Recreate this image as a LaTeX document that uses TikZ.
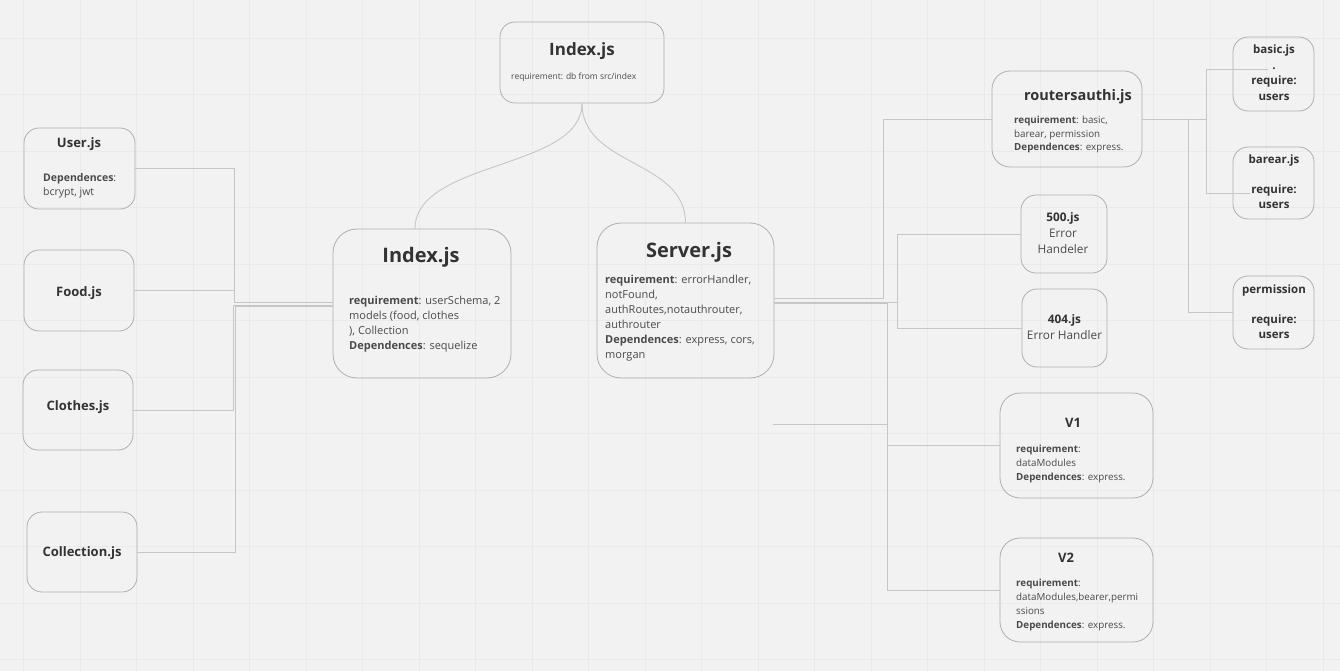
\documentclass[tikz,border=0pt]{standalone}
\usepackage{fontspec}
\setmainfont{Open Sans}
\definecolor{bg}{HTML}{F2F2F2}
\definecolor{gridc}{HTML}{EAEAEA}
\definecolor{boxc}{HTML}{AFAFAF}
\definecolor{connc}{HTML}{C6C6C6}
\definecolor{txt}{HTML}{333333}
\definecolor{txtb}{HTML}{4A4A4A}
\tikzset{
  gridline/.style={draw=gridc, line width=0.6pt},
  boxn/.style={draw=boxc, line width=0.8pt, rounded corners=15pt, inner sep=0pt, fill=none},
  conn/.style={draw=connc, line width=0.9pt},
  tl/.style={anchor=base, inner sep=0pt, text=txt, font=\bfseries},
  bd/.style={anchor=base west, inner sep=0pt, align=left, text=txtb},
  cb/.style={anchor=base, inner sep=0pt, align=center, text=txt},
}
\begin{document}
\begin{tikzpicture}[x=1pt,y=-1pt]
\useasboundingbox (0,0) rectangle (1340,671);
\fill[bg] (0,0) rectangle (1340,671);
\foreach \i in {0,...,23} \draw[gridline] (23.5+56.5*\i,0) -- (23.5+56.5*\i,671);
\foreach \j in {0,...,11} \draw[gridline] (0,38+56.5*\j) -- (1340,38+56.5*\j);

% boxes
\node[boxn, minimum width=164pt, minimum height=81pt] (idxTop) at (582,62.5) {};
\node[boxn, minimum width=111pt, minimum height=81pt] (user) at (79.5,168.5) {};
\node[boxn, minimum width=110pt, minimum height=81pt] (food) at (79,290.5) {};
\node[boxn, minimum width=110pt, minimum height=80pt] (clothes) at (78,410) {};
\node[boxn, minimum width=110pt, minimum height=80pt] (coll) at (82,552) {};
\node[boxn, rounded corners=24pt, minimum width=178pt, minimum height=149pt] (idxMid) at (422,303.5) {};
\node[boxn, rounded corners=24pt, minimum width=177pt, minimum height=155pt] (server) at (685.5,300.5) {};
\node[boxn, rounded corners=18pt, minimum width=150pt, minimum height=96pt] (rauth) at (1067,119) {};
\node[boxn, minimum width=81pt, minimum height=74pt] (basic) at (1273.5,74) {};
\node[boxn, minimum width=81pt, minimum height=72pt] (barear) at (1273.5,183) {};
\node[boxn, minimum width=81pt, minimum height=73pt] (perm) at (1273.5,312.5) {};
\node[boxn, minimum width=86pt, minimum height=78pt] (e500) at (1064,234) {};
\node[boxn, minimum width=85pt, minimum height=78pt] (e404) at (1064.5,328) {};
\node[boxn, rounded corners=20pt, minimum width=153pt, minimum height=105pt] (v1) at (1076.5,445.5) {};
\node[boxn, rounded corners=20pt, minimum width=153pt, minimum height=104pt] (v2) at (1076.5,590) {};

% texts (base anchor of a multi-line node = baseline of its last line)
\node[tl, font=\bfseries\fontsize{17}{20}\selectfont] (idxTopT) at (582,56) {Index.js};
\node[bd, font=\fontsize{8.5}{10}\selectfont] (idxTopB) at (511,80) {requirement: db from src/index};

\node[tl, font=\bfseries\fontsize{13}{15}\selectfont] (userT) at (79,148) {User.js};
\node[bd, font=\fontsize{10.5}{14}\selectfont] (userB) at (43,196) {\textbf{Dependences}:\\bcrypt, jwt};
\node[tl, font=\bfseries\fontsize{13}{15}\selectfont] (foodT) at (79,296) {Food.js};
\node[tl, font=\bfseries\fontsize{13}{15}\selectfont] (clothesT) at (78,410) {Clothes.js};
\node[tl, font=\bfseries\fontsize{13}{15}\selectfont] (collT) at (82,556) {Collection.js};

\node[tl, font=\bfseries\fontsize{20}{24}\selectfont] (idxMidT) at (421,262) {Index.js};
\node[bd, font=\fontsize{11}{15}\selectfont] (idxMidB) at (349,349) {\textbf{requirement}: userSchema, 2\\models (food, clothes\\), Collection\\\textbf{Dependences}: sequelize};

\node[tl, font=\bfseries\fontsize{20}{24}\selectfont] (serverT) at (689,257) {Server.js};
\node[bd, font=\fontsize{11}{15}\selectfont] (serverB) at (605,358) {\textbf{requirement}: errorHandler,\\notFound,\\authRoutes,notauthrouter,\\authrouter\\\textbf{Dependences}: express, cors,\\morgan};

\node[tl, font=\bfseries\fontsize{14.5}{17}\selectfont] (rauthT) at (1078,101) {routersauthi.js};
\node[bd, font=\fontsize{9.8}{13.5}\selectfont] (rauthB) at (1014,151) {\textbf{requirement}: basic,\\barear, permission\\\textbf{Dependences}: express.};

\node[cb, font=\bfseries\fontsize{11.5}{15.5}\selectfont] (basicT) at (1274,100.5) {basic.js\\.\\require:\\users};
\node[cb, font=\bfseries\fontsize{11.5}{15}\selectfont] (barearT) at (1274,208) {barear.js\\\mbox{}\\require:\\users};
\node[cb, font=\bfseries\fontsize{11.5}{15}\selectfont] (permT) at (1274,338) {permission\\\mbox{}\\require:\\users};

\node[cb, font=\fontsize{11.8}{16}\selectfont, text=txtb] (e500T) at (1063,253) {\textbf{\color{txt}500.js}\\Error\\Handeler};
\node[cb, font=\fontsize{11.8}{16}\selectfont, text=txtb] (e404T) at (1064.5,339) {\textbf{\color{txt}404.js}\\Error Handler};

\node[tl, font=\bfseries\fontsize{13}{16}\selectfont] (v1T) at (1073,427) {V1};
\node[bd, font=\fontsize{9.8}{14}\selectfont] (v1B) at (1016,480) {\textbf{requirement}:\\dataModules\\\textbf{Dependences}: express.};
\node[tl, font=\bfseries\fontsize{13}{16}\selectfont] (v2T) at (1066,562) {V2};
\node[bd, font=\fontsize{9.8}{13.7}\selectfont] (v2B) at (1016,628) {\textbf{requirement}:\\dataModules,bearer,permi\\ssions\\\textbf{Dependences}: express.};

% curves from top index
\coordinate (idxMidTop) at (415,229);
\draw[conn] (idxTop.south) .. controls (582,170) and (415,160) .. (idxMidTop);
\draw[conn] (idxTop.south) .. controls (582,166) and (685.5,160) .. (server.north);

% left bus
\coordinate (busL1) at (234,302);
\coordinate (busL2) at (233,305);
\coordinate (busL3) at (235,306.5);
\draw[conn] (user.east) -| (busL1) -- (busL1 -| idxMid.west);
\draw[conn] (food.east) -| (busL1);
\draw[conn] (clothes.east) -| (busL2) -- (busL2 -| idxMid.west);
\draw[conn] (coll.east) -| (busL3) -- (busL3 -| idxMid.west);

% right of server
\coordinate (r1) at (883,298);
\coordinate (r2) at (897,302);
\coordinate (r3) at (887,303.5);
\coordinate (s0) at (773,424);
\draw[conn] (r1 -| server.east) -- (r1) |- (rauth.west);
\draw[conn] (r2 -| server.east) -- (r2) |- (e500.west);
\draw[conn] (r2) |- (e404.west);
\draw[conn] (r3 -| server.east) -- (r3) |- (v1.west);
\draw[conn] (r3) |- (v2.west);
\draw[conn] (s0) -- (s0 -| r3);

% right of routersauthi
\coordinate (q1) at (1206,119);
\coordinate (q2) at (1188,119);
\coordinate (bIn) at (1268,69);
\coordinate (barIn) at (1250,193);
\draw[conn] (rauth.east) -- (q1);
\draw[conn] (q1) |- (bIn);
\draw[conn] (q1) |- (barIn);
\draw[conn] (q2) |- (perm.west);
\end{tikzpicture}
\end{document}
